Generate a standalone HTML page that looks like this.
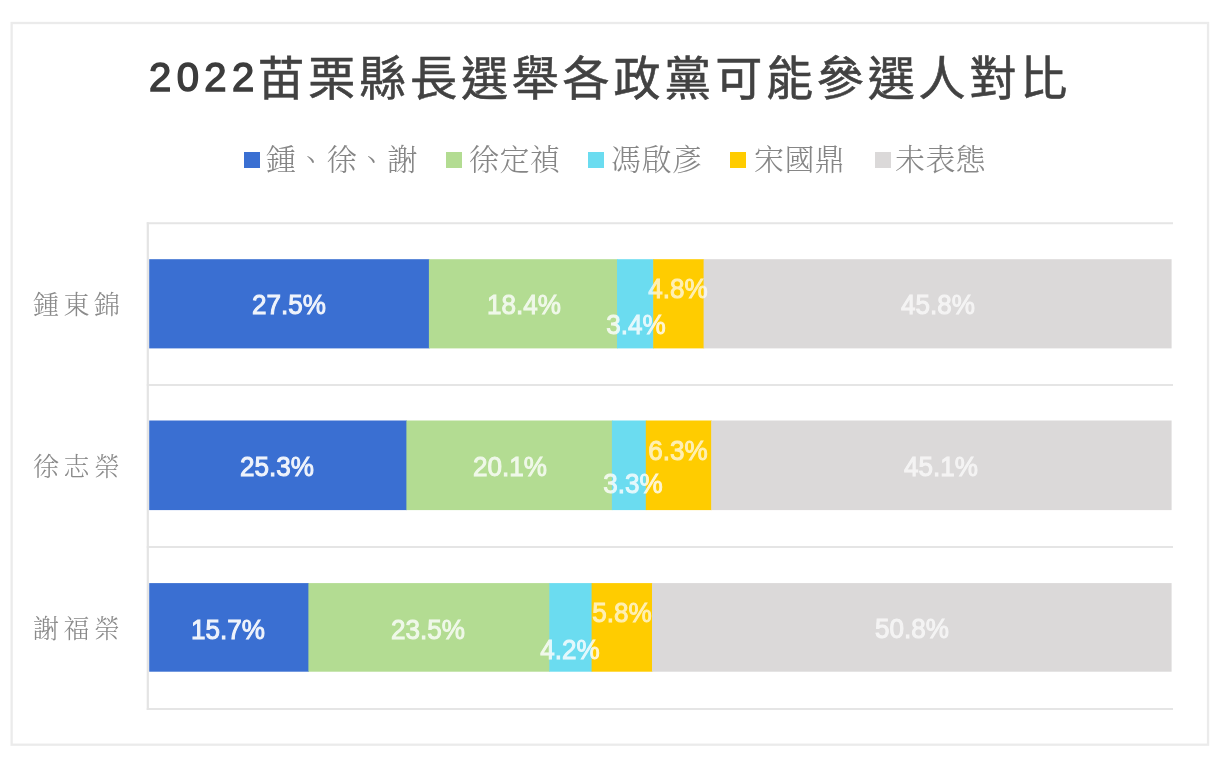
<!DOCTYPE html>
<html lang="zh-Hant">
<head>
<meta charset="utf-8">
<title>2022苗栗縣長選舉各政黨可能參選人對比</title>
<style>
html,body{margin:0;padding:0;background:#fff;}
body{width:1222px;height:764px;position:relative;overflow:hidden;font-family:"Liberation Sans","Noto Sans CJK TC","Noto Sans CJK SC",sans-serif;}
.abs{position:absolute;}
#tnum{left:149px;top:41.2px;height:72px;line-height:72px;white-space:nowrap;color:#3c3c3c;font-family:"Liberation Sans",sans-serif;font-weight:400;-webkit-text-stroke:1.5px #3c3c3c;font-size:40px;letter-spacing:5.4px;filter:blur(0.4px);}
#title{left:257.5px;top:43px;height:72px;line-height:72px;white-space:nowrap;color:#424242;font-size:47px;letter-spacing:3.85px;font-weight:400;-webkit-text-stroke:0.6px #424242;filter:blur(0.4px);}
.leg{top:140px;height:40px;line-height:40px;font-family:"Liberation Serif","Noto Serif CJK TC","Noto Serif CJK SC",serif;font-size:30px;letter-spacing:0.4px;color:#868686;white-space:nowrap;font-weight:300;filter:blur(0.45px);}
.sw{width:16px;height:16px;top:152px;}
.cat{left:33px;height:40px;line-height:40px;font-family:"Liberation Serif","Noto Serif CJK TC","Noto Serif CJK SC",serif;font-size:26px;letter-spacing:4.5px;color:#8a8a8a;font-weight:300;filter:blur(0.45px);white-space:nowrap;}
.c1{background:#3a6fd2;}
.c2{background:#b3dc92;}
.c3{background:#6bdcf0;}
.c4{background:#ffcc00;}
.c5{background:#dbd9d9;}
.lab{color:#fff;-webkit-text-stroke:1px #fff;opacity:0.86;filter:blur(0.5px);font-weight:400;font-size:27px;line-height:30px;height:30px;white-space:nowrap;transform:translate(-50%,-50%) scaleX(0.965);margin-top:1.4px;}
.o1{opacity:0.92;}.o2{opacity:0.8;}.o3{opacity:0.82;}.o4{opacity:0.7;}.o5{opacity:0.7;}
</style>
</head>
<body>
<svg class="abs" id="chart" width="1222" height="764" viewBox="0 0 1222 764" style="left:0;top:0;filter:blur(0.55px)">
<rect x="11.65" y="23" width="1196.4" height="721.7" fill="none" stroke="#ebebeb" stroke-width="2.3"/>
<line x1="146.8" y1="223.3" x2="1173" y2="223.3" stroke="#e5e5e5" stroke-width="2"/>
<line x1="146.8" y1="385.1" x2="1173" y2="385.1" stroke="#e5e5e5" stroke-width="2"/>
<line x1="146.8" y1="547.1" x2="1173" y2="547.1" stroke="#e5e5e5" stroke-width="2"/>
<line x1="146.8" y1="709.0" x2="1173" y2="709.0" stroke="#e5e5e5" stroke-width="2"/>
<rect x="149.2" y="259.2" width="280.3" height="89.2" fill="#3a6fd2"/>
<rect x="428.9" y="259.2" width="188.7" height="89.2" fill="#b3dc92"/>
<rect x="617.0" y="259.2" width="36.8" height="89.2" fill="#6bdcf0"/>
<rect x="653.2" y="259.2" width="51.0" height="89.2" fill="#ffcc00"/>
<rect x="703.6" y="259.2" width="468.0" height="89.2" fill="#dbd9d9"/>
<rect x="149.2" y="420.5" width="257.8" height="89.6" fill="#3a6fd2"/>
<rect x="406.4" y="420.5" width="206.1" height="89.6" fill="#b3dc92"/>
<rect x="611.9" y="420.5" width="34.5" height="89.6" fill="#6bdcf0"/>
<rect x="645.8" y="420.5" width="66.0" height="89.6" fill="#ffcc00"/>
<rect x="711.2" y="420.5" width="460.4" height="89.6" fill="#dbd9d9"/>
<rect x="149.2" y="583.1" width="159.8" height="88.6" fill="#3a6fd2"/>
<rect x="308.4" y="583.1" width="241.5" height="88.6" fill="#b3dc92"/>
<rect x="549.3" y="583.1" width="42.9" height="88.6" fill="#6bdcf0"/>
<rect x="591.6" y="583.1" width="61.0" height="88.6" fill="#ffcc00"/>
<rect x="652.0" y="583.1" width="519.6" height="88.6" fill="#dbd9d9"/>
<line x1="147.8" y1="222.3" x2="147.8" y2="710" stroke="#e4e4e4" stroke-width="2.2"/>
</svg>

<div id="tnum" class="abs">2022</div><div id="title" class="abs">苗栗縣長選舉各政黨可能參選人對比</div>

<div class="abs sw c1" style="left:244px"></div><div class="abs leg" style="left:266px">鍾、徐、謝</div>
<div class="abs sw c2" style="left:446px"></div><div class="abs leg" style="left:469px">徐定禎</div>
<div class="abs sw c3" style="left:588px"></div><div class="abs leg" style="left:611px">馮啟彥</div>
<div class="abs sw c4" style="left:730px"></div><div class="abs leg" style="left:754px">宋國鼎</div>
<div class="abs sw c5" style="left:875px"></div><div class="abs leg" style="left:895px">未表態</div>


<!-- row 1 -->
<div class="abs cat" style="top:286px">鍾東錦</div>
<div class="abs lab o1" style="left:289.2px;top:303.6px">27.5%</div>
<div class="abs lab o2" style="left:523.6px;top:303.8px">18.4%</div>
<div class="abs lab o3" style="left:636.0px;top:323.4px">3.4%</div>
<div class="abs lab o4" style="left:678.0px;top:288.1px">4.8%</div>
<div class="abs lab o5" style="left:937.6px;top:303.6px">45.8%</div>

<!-- row 2 -->
<div class="abs cat" style="top:448px">徐志榮</div>
<div class="abs lab o1" style="left:277.4px;top:465.2px">25.3%</div>
<div class="abs lab o2" style="left:510.2px;top:465.2px">20.1%</div>
<div class="abs lab o3" style="left:633.2px;top:482.2px">3.3%</div>
<div class="abs lab o4" style="left:678.2px;top:449.2px">6.3%</div>
<div class="abs lab o5" style="left:941.3px;top:465.8px">45.1%</div>

<!-- row 3 -->
<div class="abs cat" style="top:610px">謝福榮</div>
<div class="abs lab o1" style="left:228.4px;top:628.8px">15.7%</div>
<div class="abs lab o2" style="left:428.4px;top:628.8px">23.5%</div>
<div class="abs lab o3" style="left:570.2px;top:648.2px">4.2%</div>
<div class="abs lab o4" style="left:622.4px;top:612.0px">5.8%</div>
<div class="abs lab o5" style="left:912.2px;top:627.7px">50.8%</div>

</body>
</html>
